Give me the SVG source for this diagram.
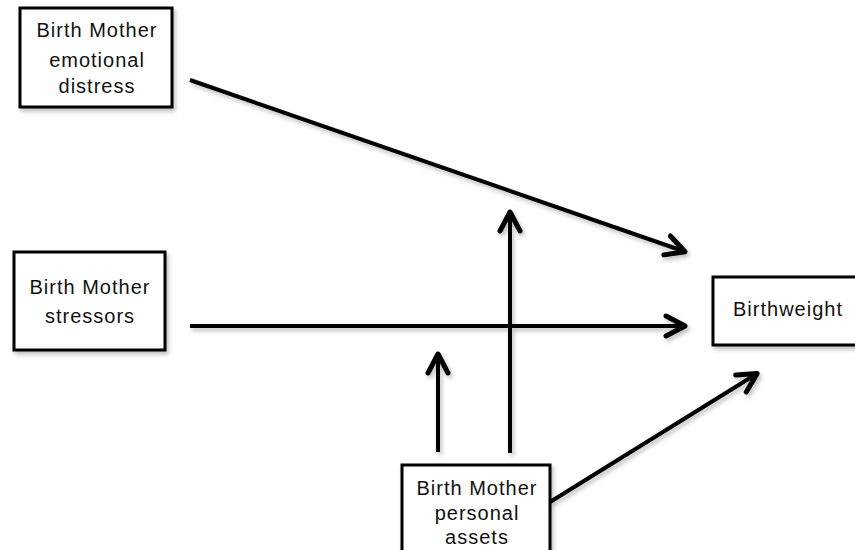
<svg xmlns="http://www.w3.org/2000/svg" width="855" height="550" viewBox="0 0 855 550">
<style>
.box{fill:#fff;stroke:#000;stroke-width:3;filter:url(#sh)}
.lbl{font-family:"Liberation Sans",Arial,sans-serif;font-size:20px;letter-spacing:1px;text-anchor:middle;fill:#111}
.ln{stroke:#000;stroke-width:4;fill:none;stroke-linecap:butt;marker-end:url(#ah)}
</style>
<defs>
<filter id="sh" x="-10%" y="-10%" width="130%" height="130%">
<feDropShadow dx="2" dy="3" stdDeviation="2" flood-color="#000" flood-opacity="0.25"/>
</filter>
<marker id="ah" viewBox="-24 -14 28 28" markerWidth="28" markerHeight="28" refX="0" refY="0" orient="auto" markerUnits="userSpaceOnUse">
<path d="M-20,-10 L-1,0 L-20,10" fill="none" stroke="#000" stroke-width="5" stroke-linecap="round" stroke-linejoin="round"/>
</marker>
</defs>
<g id="connectors" filter="url(#sh)">
<line class="ln" x1="190" y1="80" x2="686" y2="252"/>
<line class="ln" x1="190" y1="326" x2="686" y2="326"/>
<line class="ln" x1="510" y1="453" x2="510" y2="211"/>
<line class="ln" x1="438" y1="452" x2="438" y2="353"/>
<line class="ln" x1="550" y1="502" x2="758" y2="373"/>
</g>
<g id="n1">
<rect class="box" x="20" y="8" width="152" height="99"/>
<text class="lbl" x="97" y="37">Birth Mother</text>
<text class="lbl" x="97" y="67">emotional</text>
<text class="lbl" x="97" y="93">distress</text>
</g>
<g id="n2">
<rect class="box" x="14" y="252" width="151" height="98"/>
<text class="lbl" x="90" y="294">Birth Mother</text>
<text class="lbl" x="90" y="323">stressors</text>
</g>
<g id="n3">
<rect class="box" x="713" y="277" width="150" height="68"/>
<text class="lbl" x="788" y="316">Birthweight</text>
</g>
<g id="n4">
<rect class="box" x="402" y="465" width="148" height="100"/>
<text class="lbl" x="477" y="495">Birth Mother</text>
<text class="lbl" x="477" y="520">personal</text>
<text class="lbl" x="477" y="544">assets</text>
</g>
</svg>
